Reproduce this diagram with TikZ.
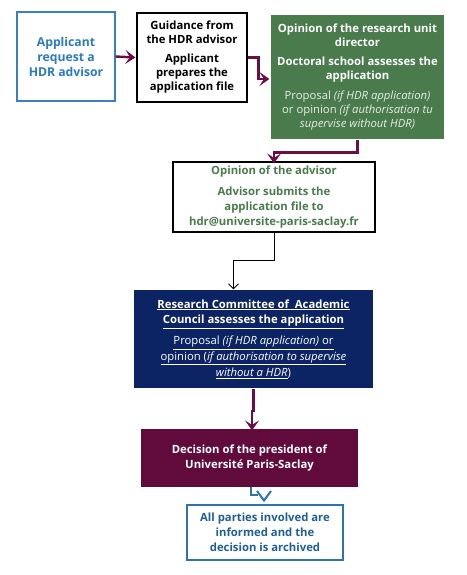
\documentclass[tikz,border=0pt]{standalone}
\usepackage{fontspec}
\setmainfont{Open Sans}
\usetikzlibrary{arrows.meta}
\definecolor{appblue}{HTML}{3A7FC4}
\definecolor{apptext}{HTML}{2A7AC4}
\definecolor{ugreen}{HTML}{4A7B4C}
\definecolor{gtext}{HTML}{4A7B4C}
\definecolor{navy}{HTML}{0C2463}
\definecolor{maroon}{HTML}{610A3C}
\definecolor{parr}{HTML}{6A0E45}
\definecolor{fblue}{HTML}{2E73AE}
\definecolor{ftext}{HTML}{1F5F95}
\definecolor{lightw}{HTML}{E6EEE6}
\tikzset{
  box/.style={draw, line width=1.2pt, align=center, inner sep=0pt, font=\bfseries\fontsize{11.3}{14}\selectfont},
  fifteen/.style={font=\bfseries\fontsize{11.3}{15}\selectfont},
  parrow/.style={draw=parr, line width=2.4pt, -{Stealth[length=10pt,width=14pt,inset=4.5pt]}},
  karrow/.style={draw=black, line width=0.9pt, -{Straight Barb[length=5pt,width=10pt]}},
}
\begin{document}
\begin{tikzpicture}[x=1pt,y=-1pt]
\useasboundingbox (0,0) rectangle (466,575);
\node[box, draw=appblue, text=apptext, fill=white, minimum width=98pt, minimum height=89pt, font=\bfseries\fontsize{12.2}{15}\selectfont] (a) at (66,56.5) {Applicant\\request a\\HDR advisor};
\node[box, draw=black, fill=white, minimum width=110pt, minimum height=89pt] (b) at (192,57.5) {Guidance from\\the HDR advisor\\[5pt]Applicant\\prepares the\\application file};
\node[box, draw=none, fill=ugreen, text=white, minimum width=173pt, minimum height=124pt] (c) at (357.5,77) {Opinion of the research unit\\director\\[5pt]Doctoral school assesses the\\application\\[6pt]{\mdseries\color{lightw}Proposal \textit{(if HDR application)}}\\{\mdseries\color{lightw}or opinion \textit{(if authorisation tu}}\\{\mdseries\color{lightw}\textit{supervise without HDR)}}};
\node[box, fifteen, draw=black, fill=white, text=gtext, minimum width=202pt, minimum height=70pt] (d) at (274,197) {Opinion of the advisor\\[6pt]Advisor submits the\\application file to\\hdr@universite-paris-saclay.fr};
\node[box, draw=none, fill=navy, text=white, minimum width=239pt, minimum height=98pt, font=\bfseries\fontsize{11.3}{15.8}\selectfont] (e) at (253.5,339) {\underline{Research Committee of\ \ Academic}\\\underline{Council assesses the application}\\[5pt]{\mdseries\underline{Proposal \textit{(if HDR application)} or}}\\{\mdseries\underline{opinion (\textit{if authorisation to supervise}}}\\{\mdseries\underline{\textit{without a HDR}})}};
\node[box, fifteen, draw=none, fill=maroon, text=white, minimum width=217pt, minimum height=58pt] (f) at (249.5,458) {Decision of the president of\\Université Paris-Saclay};
\node[box, fifteen, draw=fblue, text=ftext, fill=white, minimum width=156pt, minimum height=55pt] (g) at (265,532.5) {All parties involved are\\informed and the\\decision is archived};
\draw[parrow] (a.east) -- ([xshift=-1pt]b.west);
\draw[parrow] (b.east) -- ++(11,0) |- ([xshift=-1pt]c.west |- 0,79);
\draw[parrow] (c.south) -- ++(0,13) -| ([yshift=-2pt]d.north);
\draw[karrow] (d.south) -- ++(0,28) -| ([xshift=-20pt]e.north);
\coordinate (e1) at (252,411);
\draw[parrow] (e.south) |- (e1) -- ([yshift=-2pt]f.north -| e1);
\draw[draw=fblue, line width=2pt] (251,487) |- (258,495);
\coordinate (gt) at (264,500.5);
\draw[draw=fblue, line width=2pt, line cap=butt] (257,491) -- (gt) -- (271,491);
\end{tikzpicture}
\end{document}
